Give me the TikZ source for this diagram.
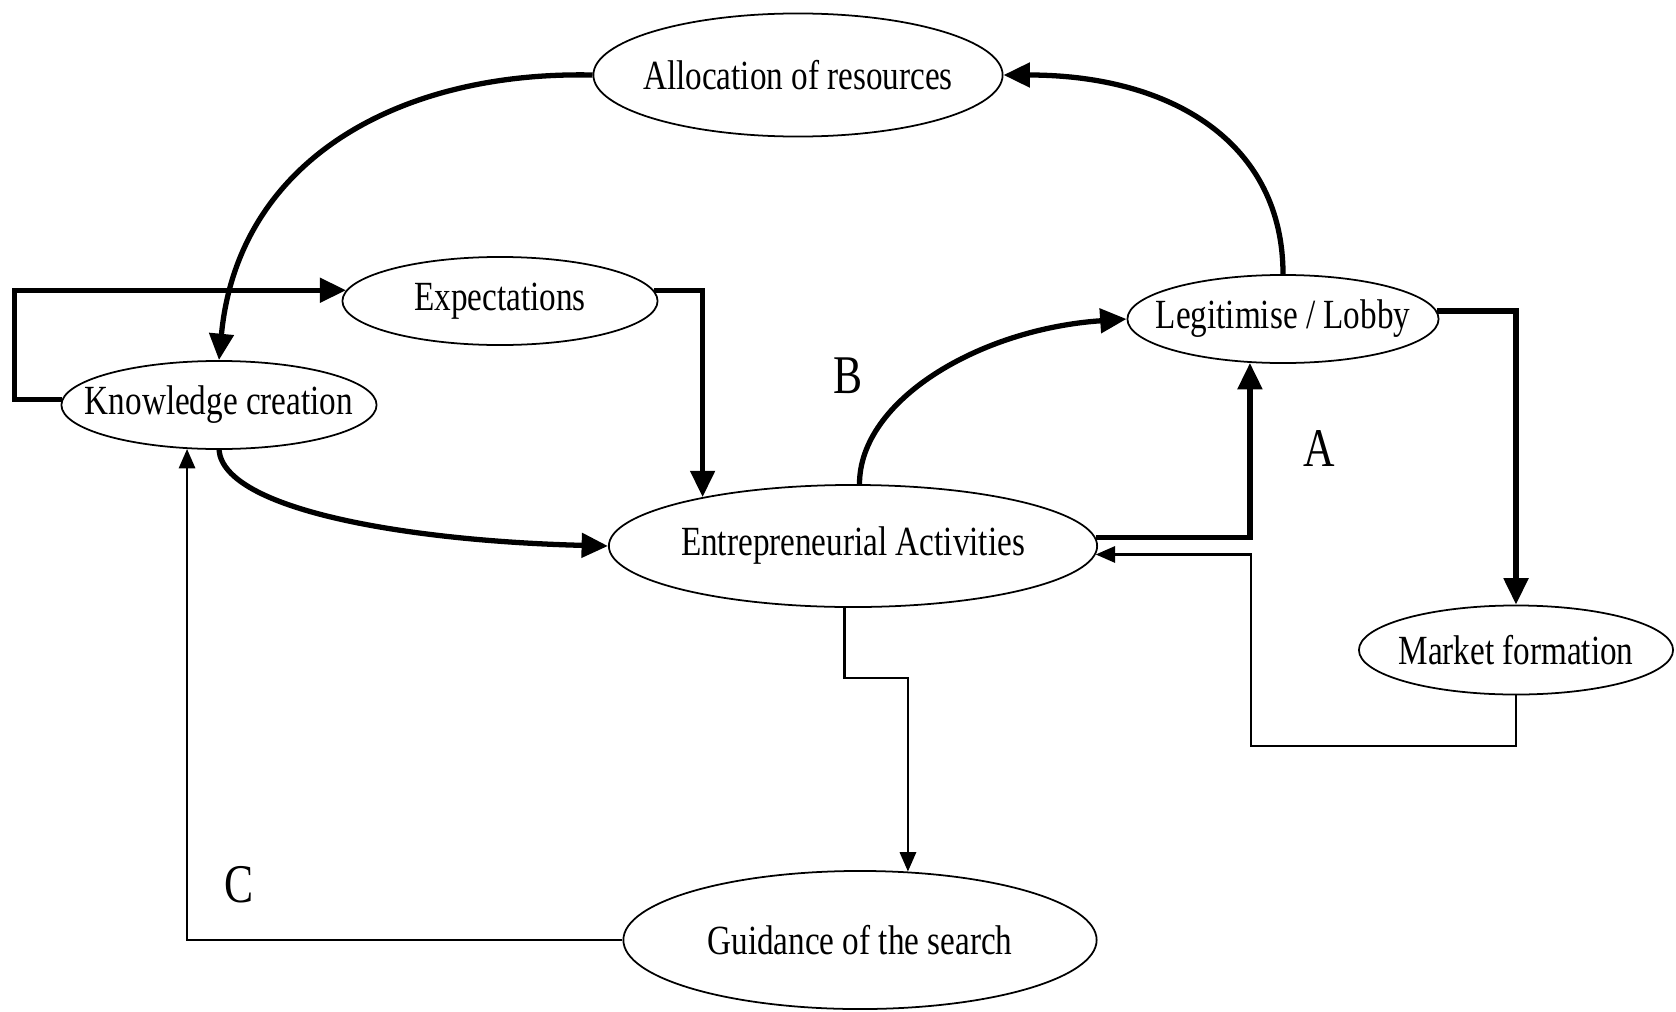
\documentclass[tikz,border=0pt]{standalone}
\usepackage{fontspec}
\setmainfont{Liberation Serif}[FakeStretch=0.8]
\usetikzlibrary{shapes.geometric,arrows.meta}
\begin{document}
\begin{tikzpicture}[x=0.01cm,y=0.01cm,
  el/.style={draw,ellipse,line width=0.5pt,inner sep=-20pt,font=\fontsize{11.8}{14}\selectfont},
  thk/.style={line width=1.5pt,-{Triangle[length=7.5pt,width=6.8pt]}},
  thn/.style={line width=0.7pt,-{Triangle[length=5.5pt,width=4.6pt]}},
  lbl/.style={font=\fontsize{15.5}{18}\selectfont}]
\useasboundingbox (0,0) rectangle (1676,1011);
\node[el,minimum width=4.09cm,minimum height=1.23cm] (alloc) at (798,936) {Allocation of resources};
\node[el,minimum width=3.15cm,minimum height=0.88cm] (expect) at (500,710) {Expectations};
\node[el,minimum width=3.15cm,minimum height=0.88cm] (know) at (219,606) {Knowledge creation};
\node[el,minimum width=4.88cm,minimum height=1.22cm] (entre) at (853,465) {Entrepreneurial Activities};
\node[el,minimum width=3.11cm,minimum height=0.88cm] (legit) at (1283,692) {Legitimise / Lobby};
\node[el,minimum width=3.14cm,minimum height=0.89cm] (market) at (1516,361) {Market formation};
\node[el,minimum width=4.73cm,minimum height=1.38cm] (guide) at (860,71) {Guidance of the search};
\node[lbl] (labB) at (848,635) {B};
\node[lbl] (labA) at (1319,562) {A};
\node[lbl] (labC) at (239,126) {C};
\draw[thk] (alloc.west) .. controls +(-194,4) and +(19,200) .. (know.north);
\draw[thk] (know.178) -- ++(-47,0) |- (expect.176);
\draw[thk] (expect.4) -| (entre.162);
\draw[thk] (know.south) .. controls +(5,-60) and +(-200,5) .. (entre.west);
\draw[thk] (entre.84) .. controls +(0,84) and +(-147,-10) .. (legit.west);
\draw[thk] (legit.north) .. controls +(0,130) and +(170,0) .. (alloc.east);
\draw[thk] (entre.2) -| (legit.233);
\draw[thk] (legit.3) -| (market.north);
\coordinate (mfc) at (1251,265);
\draw[thn] (market.south) |- (mfc) |- (entre.-2);
\draw[thn] (entre.262) -- ++(0,-70) -| (guide.55);
\draw[thn] (guide.west) -| (know.234);
\end{tikzpicture}
\end{document}
